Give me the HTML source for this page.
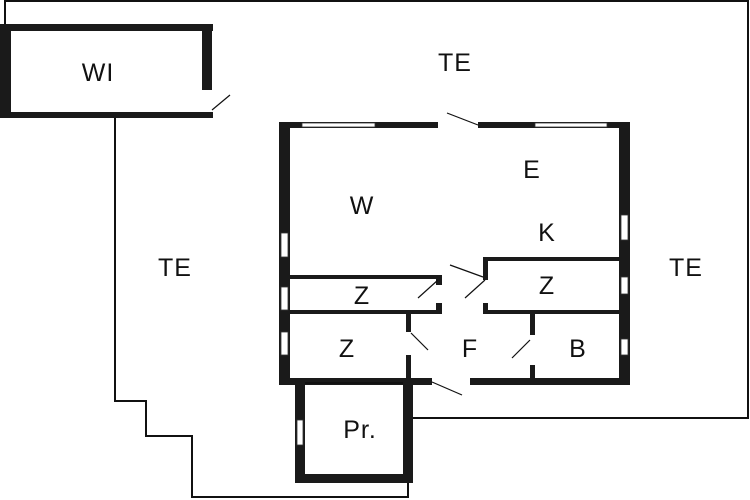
<!DOCTYPE html>
<html><head><style>html,body{margin:0;padding:0;background:#fff}svg{display:block}text{font-family:"Liberation Sans",sans-serif;font-size:25px;fill:#111;text-anchor:middle;dominant-baseline:central;letter-spacing:1px}</style></head><body>
<svg width="750" height="500" viewBox="0 0 750 500">
<g fill="none" stroke="#111" stroke-width="2">
<polyline points="5,25 5,1 748,1 748,418 413,418"/>
<polyline points="115,118 115,401 146,401 146,436 192,436 192,497 408,497 408,483"/>
</g>
<g fill="#1a1a1a">
<rect x="0" y="24" width="213" height="7"/>
<rect x="0" y="24" width="11" height="94"/>
<rect x="0" y="112" width="213" height="6"/>
<rect x="202" y="24" width="10" height="66"/>
<rect x="279" y="122" width="159" height="6"/>
<rect x="478" y="122" width="152" height="6"/>
<rect x="279" y="122" width="11" height="263"/>
<rect x="619" y="122" width="11" height="263"/>
<rect x="279" y="378" width="153" height="7"/>
<rect x="470" y="378" width="160" height="7"/>
<rect x="290" y="275" width="152" height="4"/>
<rect x="290" y="310" width="152" height="4"/>
<rect x="436" y="275" width="6" height="10"/>
<rect x="436" y="303" width="6" height="11"/>
<rect x="483" y="257" width="136" height="4"/>
<rect x="483" y="257" width="5" height="23"/>
<rect x="483" y="310" width="136" height="4"/>
<rect x="483" y="303" width="5" height="11"/>
<rect x="406" y="313" width="5" height="19"/>
<rect x="406" y="355" width="5" height="30"/>
<rect x="530" y="313" width="5" height="22"/>
<rect x="530" y="365" width="5" height="20"/>
<rect x="295" y="380" width="10" height="103"/>
<rect x="403" y="380" width="10" height="103"/>
<rect x="295" y="474" width="118" height="9"/>
</g>
<g fill="#fff" stroke="#333" stroke-width="0.8">
<rect x="302" y="123" width="73" height="4"/>
<rect x="535" y="123" width="72" height="4"/>
<rect x="281" y="233" width="7" height="24"/>
<rect x="281" y="287" width="7" height="23"/>
<rect x="281" y="332" width="7" height="23"/>
<rect x="621" y="215" width="7" height="25"/>
<rect x="621" y="277" width="7" height="17"/>
<rect x="621" y="339" width="7" height="16"/>
<rect x="297" y="420" width="6" height="25"/>
</g>
<rect x="305" y="382" width="98" height="2" fill="#111"/>
<g stroke="#111" stroke-width="1.2">
<line x1="212" y1="110" x2="230" y2="95"/>
<line x1="447" y1="113" x2="478" y2="125"/>
<line x1="418" y1="298" x2="438" y2="280"/>
<line x1="465" y1="298" x2="485" y2="280"/>
<line x1="450" y1="265" x2="483" y2="277"/>
<line x1="411" y1="333" x2="428" y2="350"/>
<line x1="512" y1="358" x2="530" y2="340"/>
<line x1="432" y1="382" x2="462" y2="395"/>
</g>
<text x="455" y="63">TE</text>
<text x="98" y="73">WI</text>
<text x="362" y="206">W</text>
<text x="532" y="170">E</text>
<text x="547" y="233">K</text>
<text x="175" y="268">TE</text>
<text x="686" y="268">TE</text>
<text x="362" y="296">Z</text>
<text x="547" y="286">Z</text>
<text x="347" y="349">Z</text>
<text x="470" y="349">F</text>
<text x="578" y="349">B</text>
<text x="360" y="430">Pr.</text>
</svg>
</body></html>
